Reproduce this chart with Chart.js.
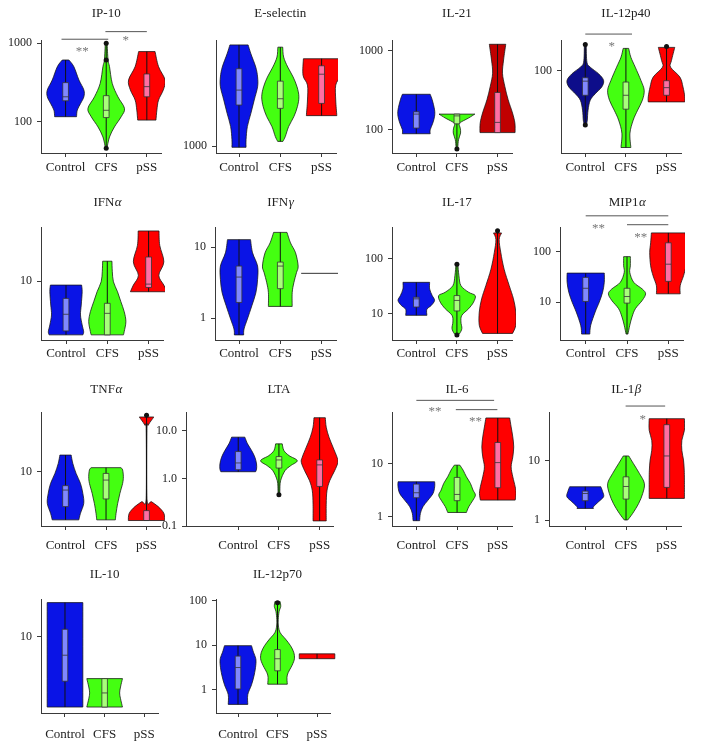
<!DOCTYPE html>
<html>
<head>
<meta charset="utf-8">
<title>Cytokine violin plots</title>
<script src="https://cdn.jsdelivr.net/npm/chart.js@4"></script>
<style>
  body { margin: 0; background: #fff; }
  #figure { position: relative; width: 701px; height: 752px; overflow: hidden; }
  .panel { position: absolute; }
</style>
</head>
<body>
<div id="figure"></div>
<script>
// Groups on the x axis
const groups = ["Control", "CFS", "pSS"];

// Each violin is a list of [concentration, relative density] from top to bottom.
// Boxes are [q1, median, q3]; outliers are [group index, value].
// Brackets: [from x, to x, line value, label, label x, label value]

// IP-10
const ip10Range = [40, 1100];
const ip10Ticks = [100, 1000];
const ip10Violins = [
  [[612, 0.18], [504, 0.45], [340, 0.73], [254, 1.0], [208, 1.0], [171, 0.82], [141, 0.64], [116, 0.6]],
  [[1000, 0.05], [612, 0.1], [504, 0.18], [308, 0.33], [208, 0.64], [148, 1.0], [116, 0.82], [86, 0.45], [64, 0.18], [46, 0.04]],
  [[783, 0.45], [504, 0.64], [340, 1.0], [254, 0.9], [189, 0.64], [141, 0.55], [105, 0.5]],
];
const ip10Boxes = [[185, 208, 315], [113, 140, 215], [208, 280, 406]];
const ip10Outliers = [[1, 1000], [1, 612], [1, 46]];
const ip10Brackets = [[-0.1, 1.05, 1125, "**", 0.41, 846], [0.98, 2.0, 1406, "*", 1.48, 1169]];

// E-selectin
const eselRange = [940, 2685];
const eselTicks = [1000];
const eselViolins = [
  [[2565, 0.49], [2362, 0.64], [2089, 0.9], [1905, 1.0], [1738, 1.0], [1538, 0.82], [1359, 0.64], [1202, 0.45], [1064, 0.38], [991, 0.38]],
  [[2512, 0.13], [2291, 0.18], [2089, 0.4], [1905, 0.69], [1738, 0.9], [1585, 1.0], [1445, 0.92], [1318, 0.73], [1202, 0.45], [1096, 0.27], [1047, 0.14]],
  [[2256, 0.98], [1936, 1.0], [1766, 0.76], [1538, 0.76], [1330, 0.82]],
];
const eselBoxes = [[1468, 1686, 2056], [1423, 1556, 1832], [1490, 1954, 2113]];

// IL-21
const il21Range = [50.7, 1377];
const il21Ticks = [100, 1000];
const il21Violins = [
  [[282, 0.76], [240, 0.87], [179, 1.0], [148, 1.0], [121, 0.9], [100, 0.76], [89, 0.76]],
  [[158, 0.98], [141, 0.64], [127, 0.27], [119, 0.12], [105, 0.18], [91, 0.2], [75, 0.09], [61, 0.05], [57, 0.04]],
  [[1215, 0.45], [769, 0.33], [521, 0.27], [354, 0.4], [240, 0.58], [163, 0.82], [121, 0.95], [92, 0.96]],
];
const il21Boxes = [[105, 158, 169], [119, 150, 158], [92, 124, 297]];
const il21Outliers = [[1, 57]];

// IL-12p40
const il12p40Range = [14.7, 203];
const il12p40Ticks = [100];
const il12p40Violins = [
  [[178, 0.05], [121, 0.09], [108, 0.27], [92.6, 0.73], [79.4, 1.0], [68.1, 0.9], [58.4, 0.55], [50.1, 0.27], [39.8, 0.15], [31.6, 0.11], [28.8, 0.07]],
  [[167, 0.15], [136, 0.27], [108, 0.51], [79.4, 0.82], [63.1, 1.0], [50.1, 0.9], [39.8, 0.64], [31.6, 0.4], [23.3, 0.22], [16.7, 0.27]],
  [[171, 0.45], [126, 0.27], [108, 0.22], [85.8, 0.73], [68.1, 0.9], [54.1, 1.0], [48.2, 1.0]],
];
const il12p40Boxes = [[56.2, 78, 84.5], [40.7, 56.2, 76.4], [56.2, 67.1, 78.8]];
const il12p40Outliers = [[0, 183], [0, 28.2], [2, 175]];
const il12p40Brackets = [[0, 1.15, 233, "*", 0.65, 185]];

// IFN-alpha
const ifnaRange = [2.9, 31.2];
const ifnaTicks = [10];
const ifnaViolins = [
  [[9.2, 0.84], [8.0, 0.87], [6.05, 0.82], [4.91, 0.78], [3.98, 0.87], [3.46, 0.95], [3.23, 0.91]],
  [[15.2, 0.25], [12.2, 0.27], [9.86, 0.33], [8.0, 0.55], [6.49, 0.73], [5.26, 0.91], [4.27, 1.0], [3.46, 0.91], [3.23, 0.87]],
  [[28.7, 0.56], [21.2, 0.6], [15.0, 0.82], [11.3, 0.55], [9.2, 0.82], [8.0, 0.98]],
];
const ifnaBoxes = [[3.51, 4.98, 6.95], [3.23, 5.08, 6.27], [8.75, 9.39, 16.6]];

// IFN-gamma
const ifngRange = [0.49, 19.3];
const ifngTicks = [1, 10];
const ifngViolins = [
  [[12.8, 0.62], [8.34, 0.73], [5.42, 1.0], [3.52, 1.0], [2.29, 0.91], [1.49, 0.69], [0.968, 0.45], [0.701, 0.27], [0.578, 0.25]],
  [[16.2, 0.36], [11.5, 0.55], [8.34, 0.82], [5.42, 0.96], [4.37, 0.87], [3.16, 0.73], [2.29, 0.64], [1.46, 0.64]],
  [[4.28, 1.1]],
];
const ifngBoxes = [[1.66, 3.79, 5.42], [2.6, 5.42, 6.17], null];

// IL-17
const il17Range = [3.32, 376];
const il17Ticks = [10, 100];
const il17Violins = [
  [[37.1, 0.73], [28.1, 0.73], [21.3, 0.87], [17.4, 1.0], [14.1, 0.82], [12.0, 0.58], [9.33, 0.58]],
  [[79, 0.05], [48.9, 0.11], [32.3, 0.22], [24.5, 0.64], [21.3, 1.0], [16.2, 0.91], [12.3, 0.64], [9.33, 0.27], [7.08, 0.22], [5.38, 0.27], [4.37, 0.15], [4.08, 0.04]],
  [[293, 0.22], [222, 0.09], [128, 0.18], [64.3, 0.36], [32.3, 0.64], [18.6, 0.87], [10.7, 1.0], [6.17, 1.0], [4.37, 0.82]],
];
const il17Boxes = [[13.2, 18.6, 19.9], [11.2, 17.4, 21.3], null];
const il17Outliers = [[1, 79], [1, 4.08], [2, 323]];

// MIP1-alpha
const mip1aRange = [1.77, 309];
const mip1aTicks = [10, 100];
const mip1aViolins = [
  [[37.6, 1.0], [24.7, 1.0], [15.7, 0.91], [10.0, 0.73], [6.37, 0.51], [3.48, 0.27], [2.32, 0.22]],
  [[79.8, 0.18], [52.4, 0.18], [38.7, 0.15], [24.7, 0.36], [18.2, 0.82], [14.6, 1.0], [10.8, 0.82], [7.4, 0.45], [5.08, 0.27], [3.48, 0.15], [2.32, 0.05]],
  [[236, 0.91], [150, 0.95], [95.5, 1.0], [52.4, 0.95], [33.3, 0.82], [21.2, 0.64], [14.6, 0.64]],
];
const mip1aBoxes = [[10.3, 18.8, 30.9], [9.55, 12.9, 18.8], [25.8, 56.5, 150]];
const mip1aBrackets = [[0, 2, 515, "**", 0.31, 328], [1.0, 2, 343, "**", 1.33, 219]];

// TNF-alpha
const tnfaRange = [3.2, 35.1];
const tnfaTicks = [10];
const tnfaViolins = [
  [[14.2, 0.31], [11.9, 0.4], [9.66, 0.58], [7.83, 0.82], [6.35, 0.95], [5.15, 1.0], [4.18, 0.82], [3.64, 0.73]],
  [[10.9, 0.82], [10.4, 0.91], [9.01, 0.95], [7.83, 0.91], [6.35, 0.76], [5.15, 0.64], [4.18, 0.55], [3.64, 0.51]],
  [[31.6, 0.4], [29.5, 0.27], [26.6, 0.09], [23.9, 0.02], [5.73, 0.02], [5.33, 0.27], [4.81, 0.64], [4.18, 0.95], [3.59, 1.0]],
];
const tnfaBoxes = [[4.81, 6.81, 7.47], [5.65, 8.4, 9.66], [3.59, 3.59, 4.42]];
const tnfaOutliers = [[2, 32.7]];

// LTA
const ltaRange = [0.1, 24.8];
const ltaTicks = [0.1, 1, 10];
const ltaViolins = [
  [[7.35, 0.36], [5.31, 0.51], [3.85, 0.73], [2.78, 0.91], [2.01, 1.0], [1.57, 1.0], [1.38, 0.95]],
  [[5.31, 0.18], [3.85, 0.27], [3.01, 0.55], [2.36, 1.0], [1.85, 0.64], [1.45, 0.33], [0.893, 0.09], [0.548, 0.05], [0.452, 0.04]],
  [[18.8, 0.31], [11.9, 0.36], [7.35, 0.51], [4.52, 0.73], [2.78, 0.95], [2.18, 1.0], [1.45, 0.82], [0.893, 0.55], [0.548, 0.4], [0.287, 0.36], [0.128, 0.36]],
];
const ltaBoxes = [[1.52, 2.11, 3.66], [1.65, 2.44, 2.87], [0.678, 1.92, 2.44]];
const ltaOutliers = [[1, 0.452]];

// IL-6
const il6Range = [0.668, 93];
const il6Ticks = [1, 10];
const il6Violins = [
  [[4.53, 1.0], [3.65, 1.0], [2.74, 0.91], [2.05, 0.64], [1.54, 0.36], [1.15, 0.22], [0.841, 0.18]],
  [[9.31, 0.15], [7.5, 0.33], [5.62, 0.51], [4.22, 0.73], [3.16, 0.87], [2.55, 1.0], [2.05, 0.87], [1.54, 0.64], [1.2, 0.51]],
  [[71.8, 0.65], [48.7, 0.73], [31.6, 0.82], [20.5, 0.87], [13.3, 0.82], [8.66, 0.73], [5.62, 0.82], [3.65, 0.95], [2.74, 1.0], [2.05, 0.95]],
];
const il6Boxes = [[2.27, 2.82, 4.1], [2.0, 2.62, 5.47], [3.5, 10.4, 24.8]];
const il6Brackets = [[0, 1.91, 154, "**", 0.46, 107], [0.97, 1.99, 103, "**", 1.45, 69.8]];

// IL-1beta
const il1bRange = [0.792, 67];
const il1bTicks = [1, 10];
const il1bViolins = [
  [[3.65, 0.85], [3.01, 0.95], [2.47, 1.0], [2.04, 0.73], [1.68, 0.45], [1.57, 0.45]],
  [[12.1, 0.15], [9.02, 0.4], [6.12, 0.73], [4.15, 1.0], [2.81, 0.91], [1.91, 0.69], [1.29, 0.36], [1.0, 0.09]],
  [[51.6, 0.96], [32.9, 0.96], [22.3, 0.82], [15.1, 0.82], [10.3, 0.91], [6.97, 0.95], [4.72, 0.96], [2.32, 0.96]],
];
const il1bBoxes = [[2.12, 2.81, 3.08], [2.26, 3.69, 5.37], [3.56, 12.1, 40.9]];
const il1bBrackets = [[0.99, 1.96, 84.5, "*", 1.41, 55.2]];

// IL-10
const il10Range = [2.04, 22];
const il10Ticks = [10];
const il10Violins = [
  [[20.4, 1.0], [2.31, 1.0]],
  [[4.18, 1.0], [3.51, 0.89], [3.1, 0.84], [2.75, 0.89], [2.31, 1.0]],
  [],
];
const il10Boxes = [[3.96, 6.81, 11.7], [2.31, 3.1, 4.18], null];

// IL-12p70
const il12p70Range = [0.345, 109];
const il12p70Ticks = [1, 10, 100];
const il12p70Violins = [
  [[9.75, 0.76], [6.95, 0.87], [4.97, 1.0], [3.54, 1.0], [2.14, 0.91], [1.29, 0.76], [0.776, 0.55], [0.468, 0.55]],
  [[95, 0.15], [73.8, 0.18], [57.3, 0.09], [37.6, 0.04], [26.9, 0.05], [19.1, 0.15], [13.7, 0.45], [9.75, 0.73], [6.95, 0.91], [4.97, 0.95], [3.54, 0.82], [2.14, 0.55], [1.33, 0.55]],
  [[6.39, 1.0], [4.97, 1.0]],
];
const il12p70Boxes = [[1.04, 3.15, 5.69], [2.66, 4.96, 7.96], null];
const il12p70Outliers = [[1, 90]];

// Colours
const violinFill = ["#0a14e6", "#44ff11", "#ff0000"];
const boxFill = ["#8088ff", "#a8ff7a", "#ff6fa3"];

// Layout of the figure grid (page pixels)
const UNIT = 41.3;      // px between two groups
const XMAX = 2.35;
const HALF = 0.45;      // widest violin half width, in group units
const BOX_HALF = 0.07;
const Y_AXIS_W = 40;
const X_AXIS_H = 30;
const PAD_TOP = 40;
const rows = [
  { title: 14, top: 40, bottom: 153, labelPad: 3 },
  { title: 203, top: 227, bottom: 340, labelPad: 1.5 },
  { title: 389.5, top: 412, bottom: 526, labelPad: 7.5 },
  { title: 575, top: 599, bottom: 713, labelPad: 10 },
];
const columnCenters = [66, 239, 416.7, 585.7];

const panels = [
  { title: ["IP-10"], violins: ip10Violins, boxes: ip10Boxes, outliers: ip10Outliers, brackets: ip10Brackets, ticks: ip10Ticks, range: ip10Range, row: 0, col: 0, axisLeft: 41 },
  { title: ["E-selectin"], violins: eselViolins, boxes: eselBoxes, ticks: eselTicks, range: eselRange, row: 0, col: 1, axisLeft: 216 },
  { title: ["IL-21"], violins: il21Violins, boxes: il21Boxes, outliers: il21Outliers, ticks: il21Ticks, range: il21Range, row: 0, col: 2, axisLeft: 392, fills: ["#0a14e6", "#44ff11", "#c00000"] },
  { title: ["IL-12p40"], violins: il12p40Violins, boxes: il12p40Boxes, outliers: il12p40Outliers, brackets: il12p40Brackets, ticks: il12p40Ticks, range: il12p40Range, row: 0, col: 3, axisLeft: 561, fills: ["#0d0d8a", "#44ff11", "#ff0000"] },
  { title: ["IFN", "α"], violins: ifnaViolins, boxes: ifnaBoxes, ticks: ifnaTicks, range: ifnaRange, row: 1, col: 0, axisLeft: 41 },
  { title: ["IFN", "γ"], violins: ifngViolins, boxes: ifngBoxes, ticks: ifngTicks, range: ifngRange, row: 1, col: 1, axisLeft: 215 },
  { title: ["IL-17"], violins: il17Violins, boxes: il17Boxes, outliers: il17Outliers, ticks: il17Ticks, range: il17Range, row: 1, col: 2, axisLeft: 392 },
  { title: ["MIP1", "α"], violins: mip1aViolins, boxes: mip1aBoxes, brackets: mip1aBrackets, ticks: mip1aTicks, range: mip1aRange, row: 1, col: 3, axisLeft: 560 },
  { title: ["TNF", "α"], violins: tnfaViolins, boxes: tnfaBoxes, outliers: tnfaOutliers, ticks: tnfaTicks, range: tnfaRange, row: 2, col: 0, axisLeft: 41 },
  { title: ["LTA"], violins: ltaViolins, boxes: ltaBoxes, outliers: ltaOutliers, ticks: ltaTicks, range: ltaRange, row: 2, col: 1, axisLeft: 186, decimals: 1 },
  { title: ["IL-6"], violins: il6Violins, boxes: il6Boxes, brackets: il6Brackets, ticks: il6Ticks, range: il6Range, row: 2, col: 2, axisLeft: 392 },
  { title: ["IL-1", "β"], violins: il1bViolins, boxes: il1bBoxes, brackets: il1bBrackets, ticks: il1bTicks, range: il1bRange, row: 2, col: 3, axisLeft: 549 },
  { title: ["IL-10"], violins: il10Violins, boxes: il10Boxes, ticks: il10Ticks, range: il10Range, row: 3, col: 0, axisLeft: 41 },
  { title: ["IL-12p70"], violins: il12p70Violins, boxes: il12p70Boxes, outliers: il12p70Outliers, ticks: il12p70Ticks, range: il12p70Range, row: 3, col: 1, axisLeft: 216 },
];

const SERIF = "'Liberation Serif', 'DejaVu Serif', serif";
Chart.defaults.font.family = SERIF;
Chart.defaults.color = "#222";

// Smooth one side of a violin (Catmull-Rom), never crossing the centre line
function traceSide(ctx, pts, cx, sign) {
  for (let i = 0; i < pts.length - 1; i++) {
    const p0 = pts[Math.max(i - 1, 0)];
    const p1 = pts[i];
    const p2 = pts[i + 1];
    const p3 = pts[Math.min(i + 2, pts.length - 1)];
    let c1x = p1[0] + (p2[0] - p0[0]) / 6;
    const c1y = p1[1] + (p2[1] - p0[1]) / 6;
    let c2x = p2[0] - (p3[0] - p1[0]) / 6;
    const c2y = p2[1] - (p3[1] - p1[1]) / 6;
    if ((c1x - cx) * sign < 0) c1x = cx;
    if ((c2x - cx) * sign < 0) c2x = cx;
    ctx.bezierCurveTo(c1x, c1y, c2x, c2y, p2[0], p2[1]);
  }
}

// Plugin that draws violins, boxes, titles and significance brackets
function makeViolinPlugin(p) {
  const fills = p.fills || violinFill;
  const row = rows[p.row];
  return {
    id: "violins",
    beforeDatasetsDraw(chart) {
      const { ctx } = chart;
      const x = chart.scales.x;
      const y = chart.scales.y;
      const unit = x.getPixelForValue(1) - x.getPixelForValue(0);
      ctx.save();
      p.violins.forEach((profile, g) => {
        if (!profile.length) return;
        const cx = x.getPixelForValue(g);
        const half = HALF * unit;

        // Only one observation: a flat line
        if (profile.length === 1) {
          const py = y.getPixelForValue(profile[0][0]);
          ctx.strokeStyle = "#333";
          ctx.lineWidth = 1;
          ctx.beginPath();
          ctx.moveTo(cx - profile[0][1] * half, py);
          ctx.lineTo(cx + profile[0][1] * half, py);
          ctx.stroke();
          return;
        }

        const right = profile.map(([v, d]) => [cx + d * half, y.getPixelForValue(v)]);
        const left = profile.map(([v, d]) => [cx - d * half, y.getPixelForValue(v)]).reverse();
        ctx.beginPath();
        ctx.moveTo(right[0][0], right[0][1]);
        traceSide(ctx, right, cx, 1);
        ctx.lineTo(left[0][0], left[0][1]);
        traceSide(ctx, left, cx, -1);
        ctx.closePath();
        ctx.fillStyle = fills[g];
        ctx.fill();
        ctx.strokeStyle = "rgba(20, 20, 20, 0.85)";
        ctx.lineWidth = 0.9;
        ctx.lineJoin = "round";
        ctx.stroke();

        // Whisker through the whole range
        const vals = profile.map((r) => r[0]);
        ctx.strokeStyle = "#111";
        ctx.lineWidth = 1;
        ctx.beginPath();
        ctx.moveTo(cx, y.getPixelForValue(Math.max(...vals)));
        ctx.lineTo(cx, y.getPixelForValue(Math.min(...vals)));
        ctx.stroke();

        // Inner box
        const box = p.boxes[g];
        if (box) {
          const [q1, med, q3] = box;
          const bw = BOX_HALF * unit;
          const y1 = y.getPixelForValue(q3);
          const y2 = y.getPixelForValue(q1);
          ctx.fillStyle = boxFill[g];
          ctx.fillRect(cx - bw, y1, 2 * bw, y2 - y1);
          ctx.strokeStyle = "#333";
          ctx.lineWidth = 0.8;
          ctx.strokeRect(cx - bw, y1, 2 * bw, y2 - y1);
          const ym = y.getPixelForValue(med);
          ctx.beginPath();
          ctx.moveTo(cx - bw, ym);
          ctx.lineTo(cx + bw, ym);
          ctx.stroke();
        }
      });
      ctx.restore();
    },
    afterDraw(chart) {
      const { ctx } = chart;
      const x = chart.scales.x;
      const y = chart.scales.y;
      ctx.save();

      // Panel title, centred over the middle group
      const tx = x.getPixelForValue(1);
      const ty = chart.chartArea.top - (row.top - row.title);
      const [plain, greek] = p.title;
      ctx.font = "13px " + SERIF;
      const w1 = ctx.measureText(plain).width;
      ctx.font = "italic 13px " + SERIF;
      const w2 = greek ? ctx.measureText(greek).width : 0;
      ctx.fillStyle = "#222";
      ctx.textBaseline = "middle";
      ctx.textAlign = "left";
      ctx.font = "13px " + SERIF;
      ctx.fillText(plain, tx - (w1 + w2) / 2, ty);
      if (greek) {
        ctx.font = "italic 13px " + SERIF;
        ctx.fillText(greek, tx - (w1 + w2) / 2 + w1 + 0.5, ty);
      }

      // Significance brackets
      (p.brackets || []).forEach(([a, b, v, label, lx, lv]) => {
        const py = y.getPixelForValue(v);
        ctx.strokeStyle = "#555";
        ctx.lineWidth = 1;
        ctx.beginPath();
        ctx.moveTo(x.getPixelForValue(a), py);
        ctx.lineTo(x.getPixelForValue(b), py);
        ctx.stroke();
        ctx.fillStyle = "#777";
        ctx.font = "13px " + SERIF;
        ctx.textAlign = "center";
        ctx.textBaseline = "alphabetic";
        ctx.fillText(label, x.getPixelForValue(lx), y.getPixelForValue(lv) + 6);
      });
      ctx.restore();
    },
  };
}

const figure = document.getElementById("figure");

panels.forEach((p) => {
  const row = rows[p.row];
  const xmin = (p.axisLeft - columnCenters[p.col]) / UNIT;
  const plotW = Math.round((XMAX - xmin) * UNIT);
  const plotH = row.bottom - row.top;

  // Whole pixels keep the canvas from being rescaled (and blurred)
  const holder = document.createElement("div");
  holder.className = "panel";
  holder.style.left = p.axisLeft - Y_AXIS_W + "px";
  holder.style.top = row.top - PAD_TOP + "px";
  holder.style.width = Y_AXIS_W + plotW + 2 + "px";
  holder.style.height = PAD_TOP + plotH + X_AXIS_H + 2 + "px";
  const canvas = document.createElement("canvas");
  holder.appendChild(canvas);
  figure.appendChild(holder);

  const axisColor = "#3a3a3a";

  new Chart(canvas, {
    type: "scatter",
    data: {
      datasets: [
        {
          data: (p.outliers || []).map(([g, v]) => ({ x: g, y: v })),
          pointRadius: 2.5,
          pointBackgroundColor: "#111",
          pointBorderWidth: 0,
          clip: false,
        },
      ],
    },
    options: {
      responsive: true,
      maintainAspectRatio: false,
      animation: false,
      devicePixelRatio: 1,
      events: [],
      layout: { padding: { top: PAD_TOP, right: 2, left: 0, bottom: 2 } },
      plugins: {
        legend: { display: false },
        tooltip: { enabled: false },
      },
      scales: {
        x: {
          type: "linear",
          min: xmin,
          max: xmin + plotW / UNIT,
          afterBuildTicks: (axis) => {
            axis.ticks = groups.map((_, i) => ({ value: i }));
          },
          afterFit: (axis) => {
            axis.height = X_AXIS_H;
          },
          grid: { display: true, drawOnChartArea: false, drawTicks: true, tickLength: 4, color: axisColor },
          border: { display: true, color: axisColor, width: 1 },
          ticks: {
            autoSkip: false,
            maxRotation: 0,
            minRotation: 0,
            padding: row.labelPad,
            font: { size: 13 },
            color: "#222",
            callback: (v) => groups[v],
          },
        },
        y: {
          type: "logarithmic",
          min: p.range[0],
          max: p.range[1],
          afterBuildTicks: (axis) => {
            axis.ticks = p.ticks.map((v) => ({ value: v }));
          },
          afterFit: (axis) => {
            axis.width = Y_AXIS_W;
          },
          grid: { display: true, drawOnChartArea: false, drawTicks: true, tickLength: 4, color: axisColor },
          border: { display: true, color: axisColor, width: 1 },
          ticks: {
            autoSkip: false,
            padding: 5,
            font: { size: 12 },
            color: "#222",
            callback: (v) => (p.decimals ? Number(v).toFixed(p.decimals) : String(v)),
          },
        },
      },
    },
    plugins: [makeViolinPlugin(p)],
  });
});
</script>
</body>
</html>
